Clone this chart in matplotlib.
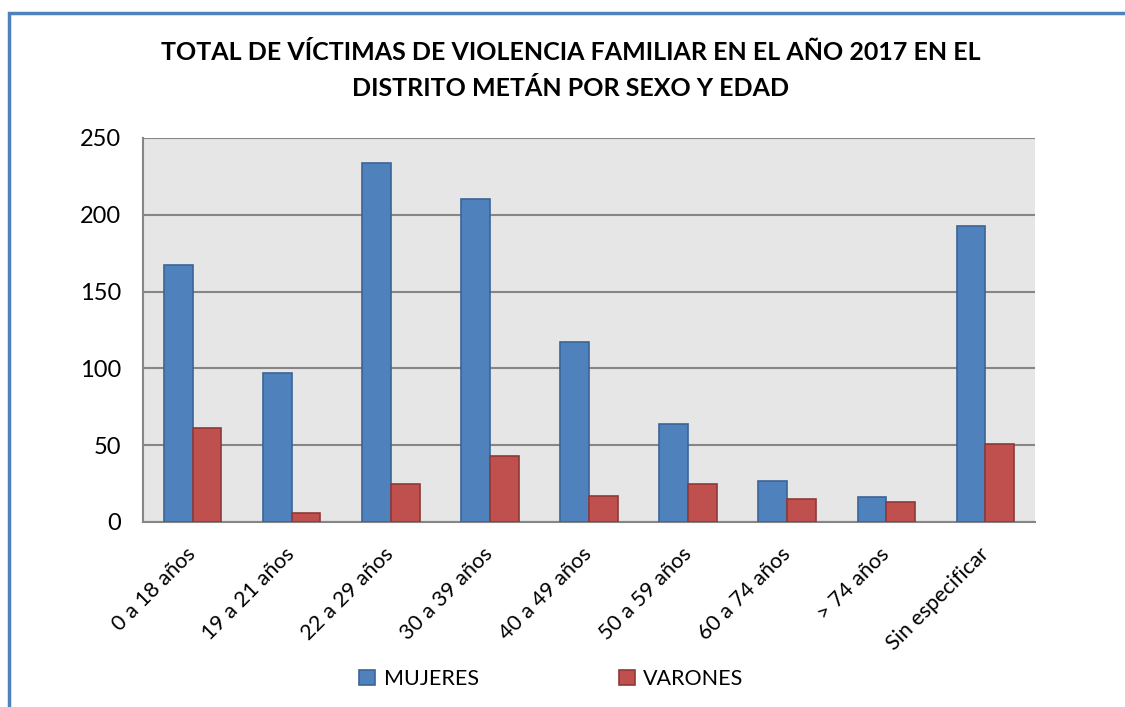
import numpy as np
import matplotlib.pyplot as plt
from matplotlib.patches import Rectangle
from matplotlib.transforms import ScaledTranslation

categorias = ['0 a 18 años', '19 a 21 años', '22 a 29 años', '30 a 39 años',
              '40 a 49 años', '50 a 59 años', '60 a 74 años', '> 74 años',
              'Sin especificar']
mujeres = [167, 97, 234, 210, 117, 64, 27, 16, 193]
varones = [61, 6, 25, 43, 17, 25, 15, 13, 51]

plt.rcParams['font.family'] = ['Lato', 'DejaVu Sans']

fig = plt.figure(figsize=(11.25, 7.07), dpi=100)
ax = fig.add_axes([143/1125, 1-522/707, (1035-143)/1125, (522-138)/707])

x = np.arange(len(categorias))
w = 0.29
ax.bar(x - w/2, mujeres, w, color='#4F81BD', edgecolor='#3A6596', linewidth=1.2,
       label='MUJERES', zorder=3)
ax.bar(x + w/2, varones, w, color='#C0504D', edgecolor='#8E3A38', linewidth=1.2,
       label='VARONES', zorder=3)

ax.set_xlim(-0.5, len(categorias) - 0.5)
ax.set_ylim(0, 250)
ax.set_yticks(range(0, 251, 50))
ax.set_facecolor('#E6E6E6')
ax.grid(axis='y', color='#868686', linewidth=1.5, zorder=0)
ax.set_axisbelow(True)
for s in ['top', 'right']:
    ax.spines[s].set_visible(False)
for s in ['left', 'bottom']:
    ax.spines[s].set_color('#868686')
    ax.spines[s].set_linewidth(1.5)

ax.tick_params(axis='y', length=0, pad=16, labelsize=17)
ax.tick_params(axis='x', length=0, pad=16, labelsize=15.5)
ax.set_xticks(x)
ax.set_xticklabels(categorias, rotation=45, ha='right', rotation_mode='anchor')
shift = ScaledTranslation(-7/100, 0, fig.dpi_scale_trans)
for lbl in ax.get_xticklabels():
    lbl.set_transform(lbl.get_transform() + shift)

fig.text(0.507, 1-52/707, 'TOTAL DE VÍCTIMAS DE VIOLENCIA FAMILIAR EN EL AÑO 2017 EN EL',
         ha='center', va='center', fontsize=18, fontweight='bold')
fig.text(0.507, 1-88/707, 'DISTRITO METÁN POR SEXO Y EDAD',
         ha='center', va='center', fontsize=18, fontweight='bold')

fig.legend(loc='center', bbox_to_anchor=(0.49, 1-679/707), ncol=2, frameon=False,
           fontsize=15.5, handlelength=0.75, handleheight=0.75, handletextpad=0.4,
           columnspacing=6.5)

fig.patches.append(Rectangle((9/1125, -0.1), 1.2, 1-13/707+0.1, transform=fig.transFigure,
                             fill=False, edgecolor='#4F81BD', linewidth=2.5))

fig.savefig('out.png', dpi=100)
